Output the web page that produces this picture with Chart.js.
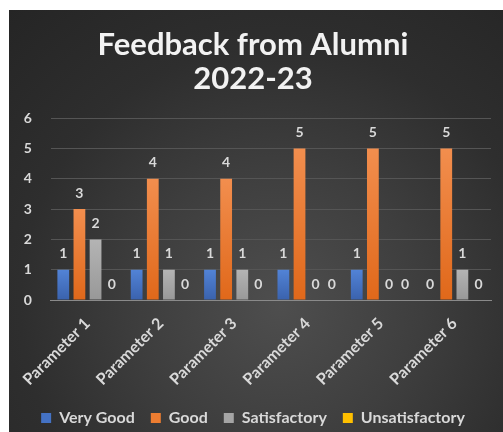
<!DOCTYPE html>
<html>
<head>
<meta charset="utf-8">
<script src="https://cdn.jsdelivr.net/npm/chart.js@4/dist/chart.umd.min.js"></script>
<style>
  html, body { margin: 0; padding: 0; background: #ffffff; width: 503px; height: 432px; overflow: hidden; }
  #wrap {
    position: absolute; left: 9px; top: 10px; width: 494px; height: 422px;
    background: radial-gradient(circle at 55% 70%, #4e4e4e 0%, #3e3e3e 35%, #2e2e2e 65%, #252525 100%);
  }
  canvas { display: block; }
</style>
</head>
<body>
<div id="wrap"><canvas id="c" width="494" height="422"></canvas></div>
<script>
const categories = ["Parameter 1", "Parameter 2", "Parameter 3", "Parameter 4", "Parameter 5", "Parameter 6"];
const veryGood = [1, 1, 1, 1, 1, 0];
const good = [3, 4, 4, 5, 5, 5];
const satisfactory = [2, 1, 1, 0, 0, 1];
const unsatisfactory = [0, 0, 0, 0, 0, 0];
const seriesNames = ["Very Good", "Good", "Satisfactory", "Unsatisfactory"];
const seriesColors = ["#4472C4", "#ED7D31", "#A5A5A5", "#FFC000"];
const seriesTop = ["#5283d6", "#f28e4e", "#b4b4b4", "#ffcb33"];
const seriesBottom = ["#3a62ad", "#e0681a", "#989898", "#eab000"];
const titleLines = ["Feedback from Alumni", "2022-23"];

const FONT = "Lato, 'Open Sans', sans-serif";
const TXT = "#d9d9d9";

function barFill(i) {
  return (c) => {
    const chart = c.chart;
    const ys = chart.scales && chart.scales.y;
    if (!ys || !chart.chartArea || c.type !== "data") return seriesColors[i];
    const top = ys.getPixelForValue(c.raw);
    const base = ys.getPixelForValue(0);
    if (base - top < 1) return seriesColors[i];
    const g = chart.ctx.createLinearGradient(0, top, 0, base);
    g.addColorStop(0, seriesTop[i]);
    g.addColorStop(1, seriesBottom[i]);
    return g;
  };
}

const valueLabels = {
  id: "valueLabels",
  afterDatasetsDraw(chart) {
    const ctx = chart.ctx;
    ctx.save();
    ctx.font = "bold 14px " + FONT;
    ctx.fillStyle = TXT;
    ctx.textAlign = "center";
    ctx.textBaseline = "middle";
    chart.data.datasets.forEach((ds, i) => {
      const meta = chart.getDatasetMeta(i);
      if (meta.hidden) return;
      meta.data.forEach((el, j) => {
        ctx.fillText(String(ds.data[j]), el.x, el.y - 16);
      });
    });
    ctx.restore();
  }
};

new Chart(document.getElementById("c"), {
  type: "bar",
  data: {
    labels: categories,
    datasets: [veryGood, good, satisfactory, unsatisfactory].map((d, i) => ({
      label: seriesNames[i],
      data: d,
      backgroundColor: barFill(i),
      borderWidth: 0,
      categoryPercentage: 0.88,
      barPercentage: 0.73
    }))
  },
  options: {
    responsive: false,
    animation: false,
    layout: { padding: { left: 6, right: 12, top: 4, bottom: -4 } },
    plugins: {
      title: {
        display: true,
        text: titleLines,
        color: "#f2f2f2",
        font: { family: FONT, size: 31, weight: "bold", lineHeight: 1.1 },
        padding: { top: 14, bottom: 22 }
      },
      legend: {
        position: "bottom",
        labels: {
          color: TXT,
          font: { family: FONT, size: 16, weight: "bold" },
          boxWidth: 10, boxHeight: 10,
          padding: 16,
          generateLabels(chart) {
            return chart.data.datasets.map((ds, i) => ({
              text: ds.label,
              fillStyle: seriesColors[i],
              strokeStyle: seriesColors[i],
              lineWidth: 0,
              fontColor: TXT,
              hidden: false,
              datasetIndex: i
            }));
          }
        }
      },
      tooltip: { enabled: false }
    },
    scales: {
      x: {
        grid: { display: false, drawTicks: false },
        border: { display: true, color: "#8a8a8a", width: 1 },
        ticks: {
          color: TXT, maxRotation: 45, minRotation: 45, padding: 14,
          font: { family: FONT, size: 16, weight: "bold" }
        },
        afterFit(s) { s.height = 94; }
      },
      y: {
        min: 0, max: 6,
        grid: { color: "#555555", drawTicks: false },
        border: { display: false },
        ticks: {
          stepSize: 1, color: TXT, padding: 19,
          font: { family: FONT, size: 14, weight: "bold" }
        },
        afterFit(s) { s.width = 28; }
      }
    }
  },
  plugins: [valueLabels]
});
</script>
</body>
</html>
